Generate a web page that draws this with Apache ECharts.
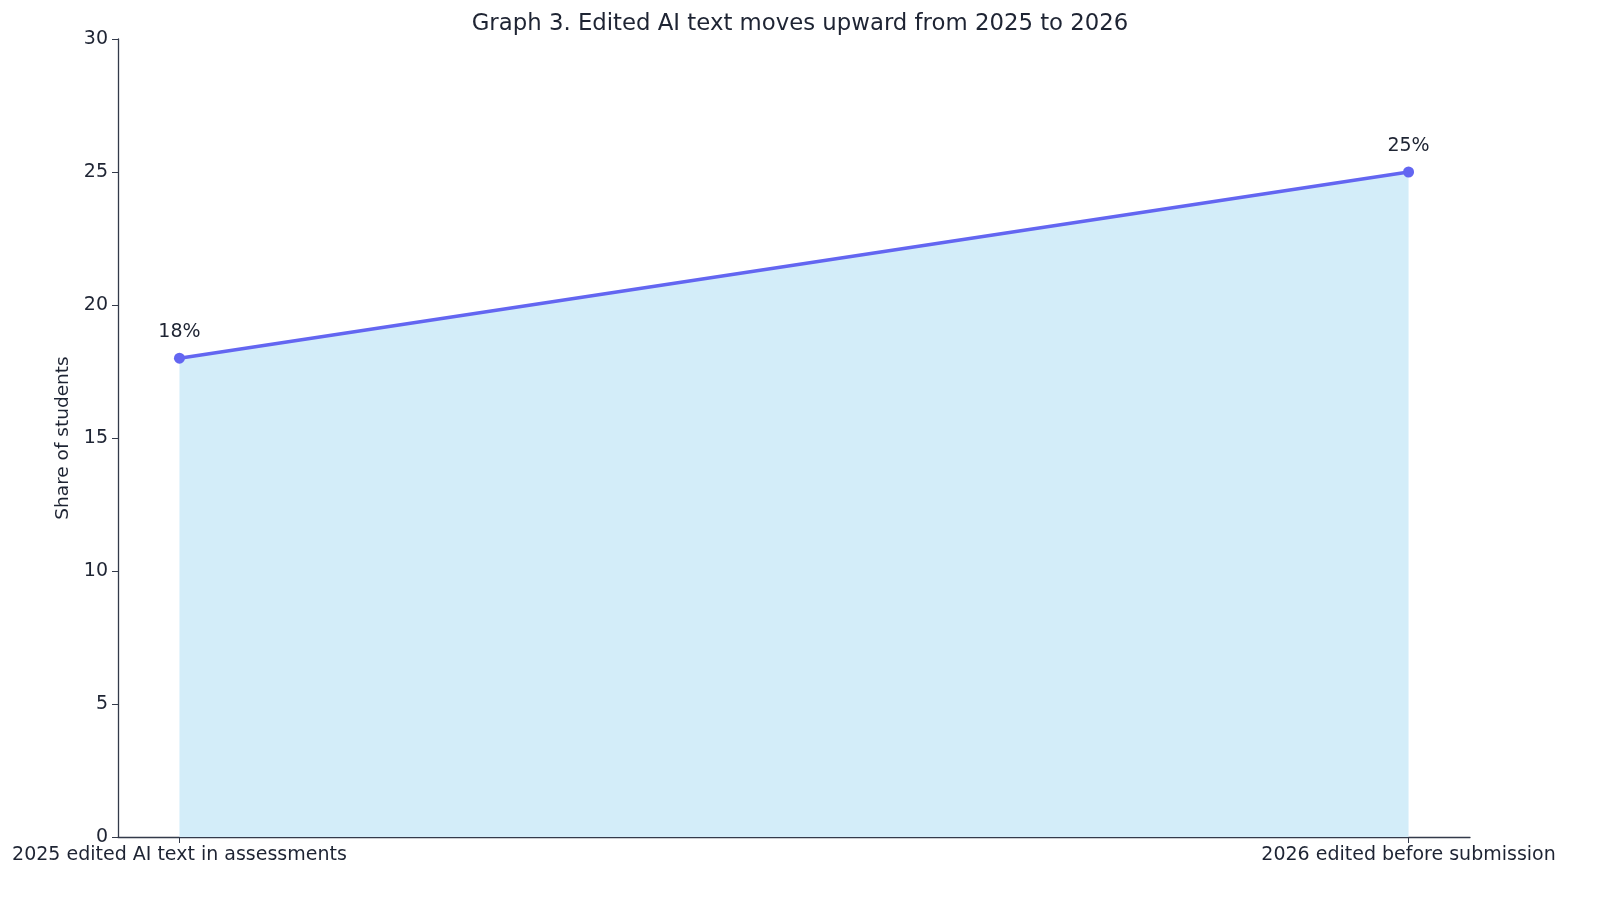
<!DOCTYPE html>
<html>
<head>
<meta charset="utf-8">
<title>Graph 3</title>
<script src="https://cdn.jsdelivr.net/npm/echarts@6/dist/echarts.min.js"></script>
<style>
  html, body { margin: 0; padding: 0; background: #fff; }
  #main { width: 1600px; height: 899px; }
</style>
</head>
<body>
<div id="main"></div>
<script>
var categories = ['2025 edited AI text in assessments', '2026 edited before submission'];
var shares = [18, 25];
var yTicks = [0, 5, 10, 15, 20, 25, 30];

var chartDom = document.getElementById('main');
var myChart = echarts.init(chartDom);
var option;

var font = 'DejaVu Sans';
var ink = '#1e2433';

option = {
    backgroundColor: '#ffffff',
    animation: false,
    title: {
        text: 'Graph 3. Edited AI text moves upward from 2025 to 2026',
        left: 'center',
        top: 8,
        textStyle: { fontFamily: font, fontSize: 22.8, fontWeight: 'normal', color: ink }
    },
    grid: { left: 118, right: 130, top: 39, bottom: 62, containLabel: false },
    xAxis: {
        type: 'value',
        min: -0.05,
        max: 1.05,
        splitLine: { show: false },
        axisLine: { show: true, onZero: false, lineStyle: { color: '#333a4a', width: 1.3 } },
        axisTick: { show: true, length: 6, customValues: categories.map(function (c, i) { return i; }), lineStyle: { color: '#333a4a' } },
        axisLabel: {
            customValues: categories.map(function (c, i) { return i; }),
            formatter: function (v) { return categories[Math.round(v)]; },
            fontFamily: font, fontSize: 19, color: ink, margin: 9
        }
    },
    yAxis: {
        type: 'value',
        min: 0,
        max: 30,
        interval: 5,
        name: 'Share of students',
        nameLocation: 'middle',
        nameGap: 45,
        nameTextStyle: { fontFamily: font, fontSize: 18.5, color: ink },
        splitLine: { show: false },
        axisLine: { show: true, onZero: false, lineStyle: { color: '#333a4a', width: 1.3 } },
        axisTick: { show: true, length: 6, lineStyle: { color: '#333a4a' } },
        axisLabel: {
            fontFamily: font, fontSize: 19, color: ink, margin: 10,
            formatter: function (v) { return yTicks.indexOf(v) >= 0 ? String(v) : ''; }
        }
    },
    series: [
        {
            type: 'line',
            data: shares.map(function (v, i) { return [i, v]; }),
            symbol: 'circle',
            symbolSize: 11,
            itemStyle: { color: '#6366f1' },
            lineStyle: { color: '#6366f1', width: 3.5 },
            areaStyle: { color: '#d3edf9', opacity: 1 },
            label: {
                show: true,
                position: 'top',
                distance: 11,
                formatter: function (p) { return p.value[1] + '%'; },
                fontFamily: font, fontSize: 19, color: ink
            },
            z: 3
        }
    ]
};

option && myChart.setOption(option);

window.addEventListener('resize', function () {
    myChart.resize();
});
</script>
</body>
</html>
